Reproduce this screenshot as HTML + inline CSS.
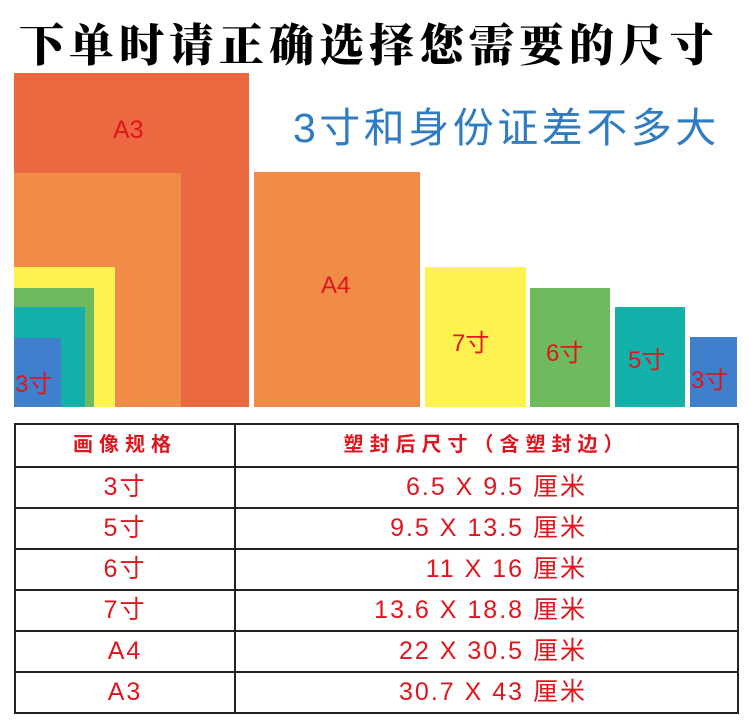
<!DOCTYPE html>
<html><head><meta charset="utf-8"><style>
body{margin:0;width:750px;height:723px;background:#fff;position:relative;overflow:hidden;font-family:"Liberation Sans","Noto Sans CJK SC",sans-serif}
.a{position:absolute}
.r{position:absolute;color:#e0161e;font-family:"Liberation Sans","Noto Sans CJK SC",sans-serif}
table{position:absolute;left:14px;top:423px;width:725px;border-collapse:collapse}
td{border:2px solid #222;height:39px;color:#e0161e;font-size:25px;text-align:center;padding:0;line-height:39px;letter-spacing:2px}
td.v{text-align:right;padding-right:150px}
tr.h td{height:41px;font-size:20px;font-weight:bold;letter-spacing:6px}
</style></head><body>
<div class="a" style="left:14px;top:14px;width:710px;text-align:center;font-family:'Noto Serif CJK SC',serif;font-weight:900;font-size:45px;line-height:56px;letter-spacing:5px;color:#000;white-space:nowrap">下单时请正确选择您需要的尺寸</div>
<div class="a" style="left:14px;top:73px;width:235px;height:334px;background:#ec6841"></div>
<div class="a" style="left:14px;top:173px;width:167px;height:234px;background:#f08c48"></div>
<div class="a" style="left:14px;top:267px;width:101px;height:140px;background:#fef250"></div>
<div class="a" style="left:14px;top:288px;width:80px;height:119px;background:#6fba5c"></div>
<div class="a" style="left:14px;top:307px;width:71px;height:100px;background:#14b1aa"></div>
<div class="a" style="left:14px;top:338px;width:47px;height:69px;background:#3f7fcb"></div>
<div class="r" style="left:113px;top:116px;font-size:25px">A3</div>
<div class="r" style="left:15px;top:364px;font-size:24px">3寸</div>
<div class="a" style="left:293px;top:94px;font-size:41px;letter-spacing:3.5px;color:#2f7cc2;white-space:nowrap">3寸和身份证差不多大</div>
<div class="a" style="left:254px;top:172px;width:166px;height:235px;background:#f08c48"></div>
<div class="a" style="left:425px;top:267px;width:101px;height:140px;background:#fef250"></div>
<div class="a" style="left:530px;top:288px;width:80px;height:119px;background:#6fba5c"></div>
<div class="a" style="left:615px;top:307px;width:70px;height:100px;background:#14b1aa"></div>
<div class="a" style="left:690px;top:337px;width:47px;height:70px;background:#3f7fcb"></div>
<div class="r" style="left:321px;top:272px;font-size:24px">A4</div>
<div class="r" style="left:452px;top:323px;font-size:24px">7寸</div>
<div class="r" style="left:546px;top:333px;font-size:24px">6寸</div>
<div class="r" style="left:628px;top:340px;font-size:24px">5寸</div>
<div class="r" style="left:691px;top:360px;font-size:24px">3寸</div>
<table>
<tr class="h"><td style="width:218px">画像规格</td><td>塑封后尺寸（含塑封边）</td></tr>
<tr><td>3寸</td><td class="v">6.5 X 9.5 厘米</td></tr>
<tr><td>5寸</td><td class="v">9.5 X 13.5 厘米</td></tr>
<tr><td>6寸</td><td class="v">11 X 16 厘米</td></tr>
<tr><td>7寸</td><td class="v">13.6 X 18.8 厘米</td></tr>
<tr><td>A4</td><td class="v">22 X 30.5 厘米</td></tr>
<tr><td>A3</td><td class="v">30.7 X 43 厘米</td></tr>
</table>
</body></html>
